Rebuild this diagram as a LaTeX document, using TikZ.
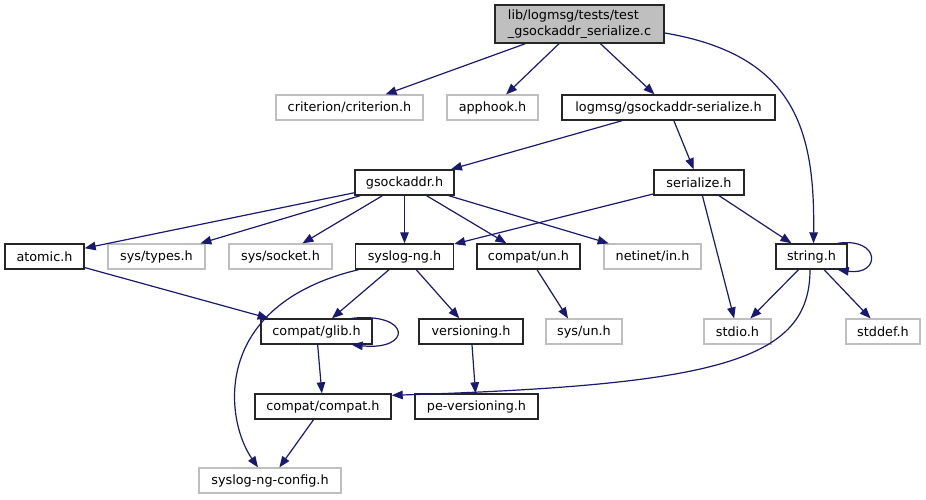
\documentclass[tikz,border=0pt]{standalone}
\usepackage{fontspec}
\newfontfamily\djv{DejaVu Sans}
\usetikzlibrary{arrows.meta}
\definecolor{edgeblue}{HTML}{191970}
\definecolor{extgray}{HTML}{BFBFBF}
\tikzset{
  base/.style={rectangle, inner sep=0pt, minimum height=25pt, font=\djv\fontsize{12.8}{15.5}\selectfont, text=black},
  docnode/.style={base, draw=black!85, line width=1.4pt},
  extnode/.style={base, draw=extgray, line width=1.2pt},
  dep/.style={draw=edgeblue, line width=1.2pt, -{Triangle[length=11pt,width=8.5pt]}}
}
\begin{document}
\begin{tikzpicture}[x=1pt,y=-1pt]
\useasboundingbox (0,0) rectangle (926,500);
% nodes
\node[docnode, fill=extgray, minimum width=169pt, minimum height=38pt, align=left] (root) at (579.5,24) {lib/logmsg/tests/test\\\_gsockaddr\_serialize.c};
\node[extnode, minimum width=147pt] (crit) at (349.5,107.5) {criterion/criterion.h};
\node[extnode, minimum width=91pt] (apphook) at (492.5,107.5) {apphook.h};
\node[docnode, minimum width=213pt] (gser) at (668.5,107.5) {logmsg/gsockaddr-serialize.h};
\node[docnode, minimum width=99pt] (gsock) at (404.5,182.5) {gsockaddr.h};
\node[docnode, minimum width=90pt] (serial) at (699,182.5) {serialize.h};
\node[docnode, minimum width=79pt] (atomic) at (44.5,256.5) {atomic.h};
\node[extnode, minimum width=97pt] (types) at (156.5,256.5) {sys/types.h};
\node[extnode, minimum width=103pt] (socket) at (280.5,256.5) {sys/socket.h};
\node[docnode, minimum width=98pt] (syslog) at (404.5,256.5) {syslog-ng.h};
\node[docnode, minimum width=103pt] (cun) at (528.5,256.5) {compat/un.h};
\node[extnode, minimum width=97pt] (netinet) at (652.5,256.5) {netinet/in.h};
\node[docnode, minimum width=71pt] (string) at (811.5,256.5) {string.h};
\node[docnode, minimum width=111pt] (glib) at (316.5,331.5) {compat/glib.h};
\node[docnode, minimum width=104pt] (vers) at (471,331.5) {versioning.h};
\node[extnode, minimum width=76pt] (sysun) at (584,331.5) {sys/un.h};
\node[extnode, minimum width=67pt] (stdio) at (737.5,331.5) {stdio.h};
\node[extnode, minimum width=74pt] (stddef) at (883,331.5) {stddef.h};
\node[docnode, minimum width=136pt] (compat) at (323,406.5) {compat/compat.h};
\node[docnode, minimum width=123pt] (pever) at (476.5,406.5) {pe-versioning.h};
\node[extnode, minimum width=142pt] (config) at (270,480.5) {syslog-ng-config.h};
% edges
\draw[dep] (root) -- (crit);
\draw[dep] (root) -- (apphook);
\draw[dep] (root) -- (gser);
\draw[dep] ([yshift=-9pt]root.east) .. controls (795,55) and (815,130) .. ([xshift=2pt]string.north);
\draw[dep] (gser) -- (gsock);
\draw[dep] (gser) -- (serial);
\draw[dep] (gsock) -- (atomic);
\draw[dep] (gsock) -- (types);
\draw[dep] (gsock) -- (socket);
\draw[dep] (gsock) -- (syslog);
\draw[dep] (gsock) -- (cun);
\draw[dep] (gsock) -- (netinet);
\draw[dep] (serial) -- (syslog);
\draw[dep] (serial) -- (string);
\draw[dep] (serial) -- (stdio);
\draw[dep] ([xshift=-10pt]string.north east) .. controls (881,237) and (881,276) .. ([xshift=-10pt]string.south east);
\draw[dep] (string) -- (stdio);
\draw[dep] (string) -- (stddef);
\draw[dep] ([xshift=-1.5pt]string.south) .. controls (810,360) and (720,385) .. ([yshift=-2pt]compat.north east);
\draw[dep] (atomic) -- (glib);
\draw[dep] (syslog) -- (glib);
\draw[dep] (syslog) -- (vers);
\draw[dep] ([xshift=-46pt]syslog.south) .. controls (210,305) and (225,420) .. ([xshift=-12pt]config.north);
\draw[dep] ([xshift=-21pt]glib.north east) .. controls (412,312) and (412,351) .. ([xshift=-21pt]glib.south east);
\draw[dep] (glib) -- (compat);
\draw[dep] (vers) -- (pever);
\draw[dep] (compat) -- (config);
\draw[dep] ([xshift=8.5pt]cun.south) -- ([xshift=-16pt]sysun.north);
\end{tikzpicture}
\end{document}
